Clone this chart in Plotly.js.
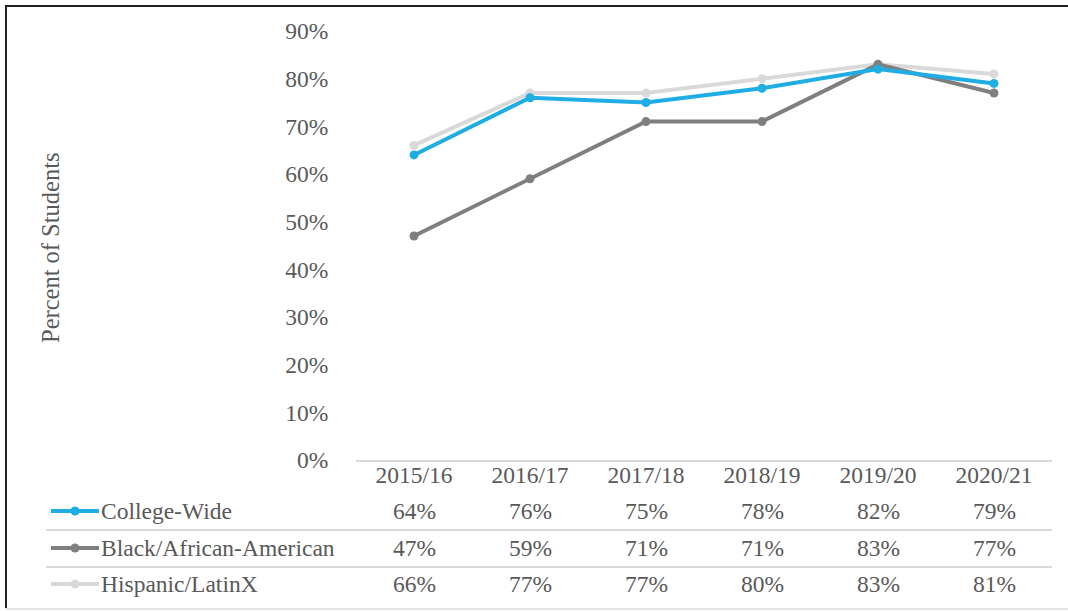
<!DOCTYPE html>
<html>
<head>
<meta charset="utf-8">
<script src="https://cdn.plot.ly/plotly-3.0.1.min.js"></script>
<style>
  html, body { margin: 0; padding: 0; background: #fff; }
  #chart { width: 1068px; height: 611px; }
</style>
</head>
<body>
<div id="chart"></div>
<script>
const years = ['2015/16', '2016/17', '2017/18', '2018/19', '2019/20', '2020/21']
const seriesNames = ['College-Wide', 'Black/African-American', 'Hispanic/LatinX']
const collegeWide = [64, 76, 75, 78, 82, 79]
const blackAfricanAmerican = [47, 59, 71, 71, 83, 77]
const hispanicLatinx = [66, 77, 77, 80, 83, 81]
const seriesColors = ['#1fade3', '#7f7f7f', '#d9d9d9']
const yTicks = [0, 10, 20, 30, 40, 50, 60, 70, 80, 90]

const W = 1068, H = 611
const L = 356, R = 1052, T = 31, B = 460
const px2x = px => (px - L) / (R - L)
const px2y = py => (B - py) / (B - T)

const font = { family: 'Liberation Serif, Times New Roman, serif', size: 23.5, color: '#595959' }
const allSeries = [collegeWide, blackAfricanAmerican, hispanicLatinx]

// draw light gray first, then gray, then blue on top
const order = [2, 1, 0]
const traces = order.map(i => ({
    type: 'scatter',
    mode: 'lines+markers',
    name: seriesNames[i],
    x: years,
    y: allSeries[i],
    line: { color: seriesColors[i], width: 4 },
    marker: { color: seriesColors[i], size: 9 },
    showlegend: false,
    hoverinfo: 'skip'
}))

const rowY = [511, 548, 584]
const annotations = []
const shapes = []

seriesNames.forEach((name, i) => {
    annotations.push({
        xref: 'paper', yref: 'paper', x: px2x(99), y: px2y(rowY[i]),
        xanchor: 'left', yanchor: 'middle', text: name, showarrow: false, font
    })
    years.forEach((yr, j) => {
        annotations.push({
            xref: 'x', yref: 'paper', x: yr, y: px2y(rowY[i]),
            xanchor: 'center', yanchor: 'middle', text: allSeries[i][j] + '%', showarrow: false, font
        })
    })
    // legend key
    shapes.push({
        type: 'line', xref: 'paper', yref: 'paper',
        x0: px2x(51), x1: px2x(99), y0: px2y(rowY[i]), y1: px2y(rowY[i]),
        line: { color: seriesColors[i], width: 4 }
    })
    shapes.push({
        type: 'circle', xref: 'paper', yref: 'paper', fillcolor: seriesColors[i],
        x0: px2x(70.5), x1: px2x(79.5), y0: px2y(rowY[i] - 4.5), y1: px2y(rowY[i] + 4.5),
        line: { width: 0 }
    })
})

// table row separators
;[530, 567].forEach(py => shapes.push({
    type: 'line', xref: 'paper', yref: 'paper',
    x0: px2x(46), x1: px2x(1052), y0: px2y(py), y1: px2y(py),
    line: { color: '#d9d9d9', width: 2 }
}))

// outer frame
shapes.push({ type: 'line', xref: 'paper', yref: 'paper', x0: px2x(6), x1: px2x(6), y0: px2y(5), y1: px2y(610), line: { color: '#222', width: 2 } })
shapes.push({ type: 'line', xref: 'paper', yref: 'paper', x0: px2x(5), x1: px2x(1068), y0: px2y(6), y1: px2y(6), line: { color: '#222', width: 2 } })
shapes.push({ type: 'line', xref: 'paper', yref: 'paper', x0: px2x(5), x1: px2x(1068), y0: px2y(609), y1: px2y(609), line: { color: '#e6e6e6', width: 2 } })

annotations.push({
    xref: 'paper', yref: 'paper', x: px2x(50), y: px2y(248),
    xanchor: 'center', yanchor: 'middle', textangle: -90,
    text: 'Percent of Students', showarrow: false,
    font: { ...font, size: 24.5 }
})

Plotly.newPlot('chart', traces, {
    width: W,
    height: H,
    margin: { l: L, r: W - R, t: T, b: H - B },
    paper_bgcolor: '#fff',
    plot_bgcolor: '#fff',
    font,
    showlegend: false,
    xaxis: {
        type: 'category',
        categoryarray: years,
        range: [-0.5, 5.5],
        showgrid: false,
        zeroline: false,
        showline: true,
        linecolor: '#d9d9d9',
        linewidth: 2,
        ticks: '',
        ticklabelstandoff: -7,
        tickfont: font
    },
    yaxis: {
        range: [0, 90],
        tickvals: yTicks,
        ticktext: yTicks.map(v => v + '%'),
        showgrid: false,
        zeroline: false,
        showline: false,
        ticks: 'outside',
        ticklen: 22,
        tickcolor: 'rgba(0,0,0,0)',
        tickfont: font
    },
    annotations,
    shapes
}, { displayModeBar: false, staticPlot: true })
</script>
</body>
</html>
